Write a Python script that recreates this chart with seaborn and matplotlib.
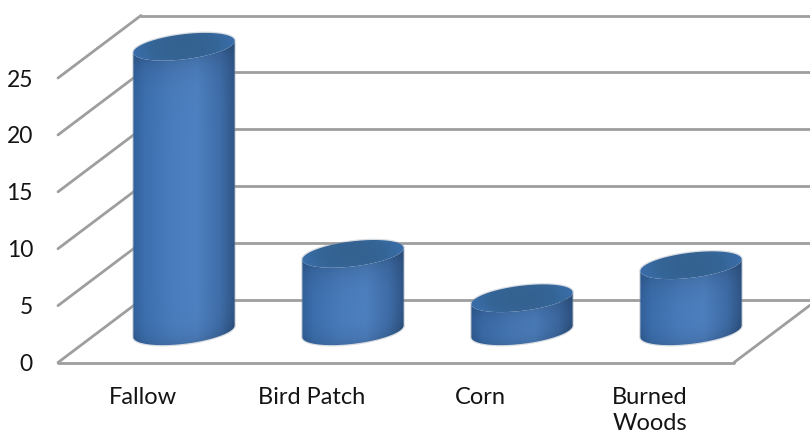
import numpy as np
import pandas as pd
import matplotlib
matplotlib.use("Agg")
import matplotlib.pyplot as plt
from matplotlib.colors import to_rgb
from matplotlib.patches import Polygon
import seaborn as sns

# data
categories = ["Fallow", "Bird Patch", "Corn", "Burned\nWoods"]
values = [25.0, 6.8, 2.9, 5.8]
y_ticks = [0, 5, 10, 15, 20, 25]

# look of the fake 3d box
PX_X = 169.0        # pixels per category
PX_Y = 11.38        # pixels per value unit
DEPTH_X = 83 / PX_X
DEPTH_Y = 62.5 / PX_Y
GRID = "#9e9e9e"
TILT = np.radians(7)
RX, RY = 51.0, 12.5   # cylinder cap, pixels

sns.set_style("white")
plt.rcParams["font.family"] = ["Lato", "DejaVu Sans"]

fig = plt.figure(figsize=(8.1, 4.37), dpi=100)
ax = fig.add_axes([58 / 810, (437 - 362.5) / 437, 676 / 810, 284.5 / 437])

df = pd.DataFrame({"category": categories, "value": values})
sns.barplot(data=df, x="category", y="value", width=0.6, color="#4a7dbf",
            bottom=DEPTH_Y / 2, ax=ax, zorder=3)
ax.set_xlim(-0.5, 3.5)
ax.set_ylim(0, 25)


def cap(cx, cy):
    """tilted ellipse, in data units"""
    t = np.linspace(0, 2 * np.pi, 181)
    px = RX * np.cos(t) * np.cos(TILT) - RY * np.sin(t) * np.sin(TILT)
    py = RX * np.cos(t) * np.sin(TILT) + RY * np.sin(t) * np.cos(TILT)
    return cx + px / PX_X, cy + py / PX_Y


def ramp(stops, u):
    pos = [s[0] for s in stops]
    rgb = np.array([to_rgb(s[1]) for s in stops])
    return np.stack([np.interp(u, pos, rgb[:, i]) for i in range(3)], axis=-1)


side_stops = [(-1, "#32609a"), (-0.75, "#3d70af"), (-0.2, "#4a7dbd"),
              (0.25, "#4e81c1"), (0.7, "#3f6da8"), (1, "#2e5484")]
top_stops = [(0, "#33618f"), (0.6, "#356596"), (1, "#3a6eaa")]


def draw_cylinder(bar):
    cx = bar.get_x() + bar.get_width() / 2 + DEPTH_X / 2
    y0 = bar.get_y()
    y1 = y0 + bar.get_height()
    bar.set_visible(False)

    bx, by = cap(cx, y0)
    tx, ty = cap(cx, y1)
    left, right = np.argmin(bx), np.argmax(bx)

    # outline of the side: lower half of bottom cap, upper half of top cap
    lower = np.roll(np.arange(len(bx) - 1), -left)
    lower = lower[:np.where(lower == right)[0][0] + 1]
    if by[lower].mean() > y0:
        lower = np.roll(np.arange(len(bx) - 1), -right)
        lower = lower[:np.where(lower == left)[0][0] + 1][::-1]
    outline = np.r_[np.c_[bx[lower], by[lower]],
                    np.c_[tx[lower][::-1], ty[lower][::-1]]]

    # soft grey edge round the whole cylinder
    upper = np.setdiff1d(np.arange(len(tx) - 1), lower)
    upper = upper[np.argsort(tx[upper])][::-1]
    halo = np.r_[np.c_[bx[lower], by[lower]], np.c_[tx[upper], ty[upper]]]
    ax.add_patch(Polygon(halo, facecolor="none", edgecolor="#8f9bab", alpha=0.35,
                         lw=1.8, zorder=2, clip_on=False))

    half = (bx.max() - bx.min()) / 2 * 1.02
    ext = [cx - half, cx + half, y0 - 3, y1 + 3]
    xs = np.linspace(-1, 1, 200)
    ys = np.linspace(ext[2], ext[3], 400)
    uu, yy = np.meshgrid(xs, ys)
    # pixels below the front rim of the top cap / above the bottom rim
    arc = np.sqrt(np.clip(1 - uu ** 2, 0, 1)) * RY
    lean = uu * RX * np.tan(TILT)
    d_top = (y1 - yy) * PX_Y + lean - arc
    d_bot = (yy - y0) * PX_Y - lean + arc
    shade = 1 - 0.14 * np.exp(-np.clip(d_top, 0, None) / 14) - 0.12 * np.exp(-np.clip(d_bot, 0, None) / 10)
    img = ramp(side_stops, uu) * shade[..., None]
    im = ax.imshow(img, extent=ext, origin="lower", aspect="auto", zorder=3)
    clip = Polygon(outline, transform=ax.transData, fill=False, edgecolor="none")
    ax.add_patch(clip)
    im.set_clip_path(clip)
    im.set_clip_box(fig.bbox)

    # top cap: darker in the middle, lighter towards the rim
    gx, gy = np.meshgrid(np.linspace(-1, 1, 200), np.linspace(-1, 1, 100))
    rad = np.clip(np.hypot(gx, gy * 0.8), 0, 1)
    im2 = ax.imshow(ramp(top_stops, rad), extent=[cx - half, cx + half, y1 - 2, y1 + 2],
                    origin="lower", aspect="auto", zorder=4)
    clip2 = Polygon(np.c_[tx, ty], transform=ax.transData, fill=False, edgecolor="none")
    ax.add_patch(clip2)
    im2.set_clip_path(clip2)
    im2.set_clip_box(fig.bbox)


# back wall, side diagonals and floor
for v in y_ticks:
    ax.plot([-0.5, -0.5 + DEPTH_X], [v, v + DEPTH_Y], color=GRID, lw=2,
            clip_on=False, zorder=1, solid_capstyle="round")
    ax.plot([-0.5 + DEPTH_X, 3.5 + DEPTH_X], [v + DEPTH_Y, v + DEPTH_Y],
            color=GRID, lw=2, clip_on=False, zorder=1)
ax.plot([-0.5, 3.5], [0, 0], color=GRID, lw=2, clip_on=False, zorder=1)
ax.plot([3.5, 3.5 + DEPTH_X], [0, DEPTH_Y], color=GRID, lw=2, clip_on=False, zorder=1)

for bar in list(ax.patches):
    draw_cylinder(bar)

ax.set_xlim(-0.5, 3.5)
ax.set_ylim(0, 25)
ax.set_xlabel("")
ax.set_ylabel("")
ax.set_yticks(y_ticks)
ax.tick_params(axis="y", length=0, pad=18, labelsize=16.5, labelcolor="#141414")
ax.tick_params(axis="x", length=0, pad=17.5, labelsize=17, labelcolor="#141414")
for lab in ax.get_xticklabels():
    lab.set_linespacing(1.3)
sns.despine(ax=ax, left=True, bottom=True)
ax.patch.set_alpha(0)

fig.savefig("out.png", dpi=100)
